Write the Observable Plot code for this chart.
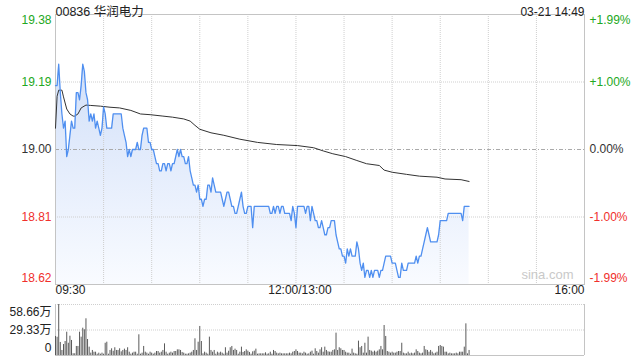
<!DOCTYPE html>
<html><head><meta charset="utf-8">
<script src="https://cdn.jsdelivr.net/npm/d3@7"></script>
<script src="https://cdn.jsdelivr.net/npm/@observablehq/plot@0.6"></script>
<style>
body{margin:0;background:#fff;}
#chart{position:relative;width:640px;height:360px;background:#fff;}
#chart svg{display:block;}
</style></head><body><div id="chart"></div>
<script>
// ---- data ----
const title = "00836 华润电力";
const stamp = "03-21 14:49";
const prevClose = 19.00;
const watermark = "sina.com";

// minute-by-minute last price, minute 0 = 09:30 (trading minutes, lunch break removed)
const prices = [
19.18,19.18,19.24,19.16,19.10,19.06,19.08,18.98,19.00,19.04,
19.08,19.06,19.06,19.16,19.16,19.14,19.18,19.24,19.22,19.16,
19.14,19.08,19.10,19.08,19.10,19.06,19.08,19.06,19.04,19.06,
19.12,19.10,19.06,19.06,19.06,19.06,19.10,19.10,19.10,19.10,
19.10,19.10,19.06,19.04,19.02,18.98,19.00,18.98,19.00,19.00,
19.00,19.02,19.00,19.00,19.04,19.06,19.06,19.06,19.02,19.02,
19.00,19.00,18.98,18.96,18.96,18.94,18.94,18.96,18.96,18.94,
18.96,18.96,18.94,18.96,18.96,18.98,19.00,18.98,19.00,18.98,
18.98,18.96,18.96,18.98,18.94,18.92,18.90,18.90,18.88,18.90,
18.86,18.86,18.84,18.86,18.86,18.90,18.90,18.88,18.92,18.90,
18.88,18.88,18.88,18.88,18.86,18.84,18.86,18.88,18.88,18.86,
18.84,18.84,18.82,18.82,18.84,18.86,18.88,18.84,18.82,18.82,
18.84,18.84,18.84,18.78,18.84,18.84,18.84,18.84,18.84,18.84,
18.84,18.84,18.84,18.84,18.82,18.82,18.84,18.82,18.84,18.84,
18.82,18.84,18.84,18.82,18.82,18.82,18.82,18.80,18.84,18.82,
18.78,18.84,18.84,18.84,18.84,18.84,18.82,18.84,18.84,18.80,
18.84,18.82,18.80,18.80,18.78,18.78,18.80,18.78,18.76,18.76,
18.78,18.78,18.80,18.80,18.80,18.76,18.74,18.72,18.72,18.70,
18.70,18.68,18.72,18.70,18.72,18.70,18.70,18.70,18.74,18.72,
18.68,18.66,18.68,18.64,18.66,18.66,18.64,18.66,18.64,18.66,
18.66,18.66,18.64,18.66,18.66,18.68,18.70,18.70,18.70,18.70,
18.68,18.68,18.68,18.66,18.64,18.64,18.68,18.66,18.66,18.66,
18.68,18.68,18.68,18.68,18.68,18.70,18.68,18.70,18.70,18.72,
18.74,18.76,18.78,18.76,18.74,18.74,18.74,18.74,18.74,18.76,
18.80,18.80,18.80,18.80,18.80,18.82,18.82,18.82,18.82,18.82,
18.82,18.82,18.82,18.82,18.80,18.84,18.84,18.84,18.84
];

// average price line (read at sample minutes)
const avgMinutes = [0,1,2,4,5,7,9,11,12,14,16,19,22,28,34,40,47,53,59,67,73,80,84,87,90,97,105,115,126,138,151,161,167,173,181,188,194,202,205,210,219,227,238,243,253,258];
const avgPrices = [19.06,19.15,19.167,19.167,19.148,19.114,19.10,19.094,19.094,19.10,19.117,19.125,19.124,19.122,19.119,19.117,19.11,19.10,19.098,19.094,19.091,19.086,19.08,19.068,19.057,19.047,19.04,19.029,19.02,19.014,19.011,19.005,18.996,18.988,18.98,18.969,18.96,18.955,18.942,18.936,18.93,18.925,18.922,18.917,18.915,18.91];

// volume per minute, in 万
const volumes = [
21.9,21.0,58.66,15.0,5.8,12.6,16.1,26.8,14.1,22.2,
17.3,2.0,2.0,10.4,10.4,26.8,21.1,31.4,29.6,42.2,
18.4,9.6,2.7,5.8,3.8,3.8,1.5,2.7,1.5,2.7,
1.5,14.1,15.3,1.5,5.8,7.7,4.9,8.9,5.8,5.8,
7.7,4.2,5.8,7.3,5.8,8.9,3.8,1.5,2.7,3.8,
3.8,1.5,23.8,1.5,2.7,10.4,3.8,2.7,1.5,3.8,
2.7,1.5,2.7,4.6,4.6,2.7,3.8,5.8,13.4,3.8,
1.5,2.7,3.8,2.7,4.6,4.6,6.5,6.5,5.8,3.5,
2.7,1.5,1.5,1.9,2.7,3.8,5.8,19.2,5.8,15.3,
33.4,16.1,1.9,3.8,2.7,1.5,21.1,5.8,3.8,5.8,
1.5,3.8,2.7,3.8,2.7,1.5,8.9,2.7,4.9,8.9,
10.4,5.8,7.3,5.8,1.5,3.8,9.6,3.5,4.6,6.5,
5.0,3.5,1.5,4.2,5.0,7.3,1.5,1.9,1.9,1.9,
1.9,3.1,1.5,1.9,3.8,1.5,5.8,4.6,2.7,1.9,
2.7,1.9,1.9,1.9,1.9,1.9,2.7,1.9,3.8,4.6,
6.5,4.6,2.7,2.7,1.9,3.8,2.7,1.5,1.9,3.8,
5.0,1.5,7.7,4.6,2.7,6.5,8.9,3.8,9.6,5.8,
4.2,3.8,3.8,5.8,6.5,25.7,5.8,8.9,7.7,5.8,
5.8,3.8,2.7,2.7,1.5,7.3,2.7,1.9,1.5,16.5,
8.9,10.4,2.7,14.1,2.7,21.1,5.8,5.0,3.8,5.0,
3.8,5.0,6.5,10.4,6.5,34.5,21.9,4.6,3.8,2.7,
3.8,2.7,2.7,3.8,4.6,4.6,14.1,2.7,1.9,1.9,
3.8,1.9,2.7,1.9,2.7,6.5,4.6,2.7,1.9,2.7,
10.4,6.5,5.8,3.8,5.8,3.8,1.9,2.7,3.8,10.4,
11.5,10.4,9.6,3.8,3.8,1.9,2.7,1.9,1.9,1.9,
2.7,1.9,3.8,3.8,3.8,9.6,36.4,1.9,5.8
];

const sessionMinutes = 330;
const gridMinutes = [30,60,90,120,150,180,210,240,270,300];
const timeTicks = [0,150,330];
const timeLabels = ["09:30","12:00/13:00","16:00"];
const priceTicks = [19.38,19.19,19.00,18.81,18.62];
const priceLabels = ["19.38","19.19","19.00","18.81","18.62"];
const pctLabels = ["+1.99%","+1.00%","0.00%","-1.00%","-1.99%"];
const volTicks = [58.66,29.33,0];
const volLabels = ["58.66万","29.33万","0"];

// ---- build ----
const FONT = '"Liberation Sans", Arial, "Noto Sans CJK SC", sans-serif';
const green = "#22a822", red = "#f0302c", dark = "#333333";
const colorOf = v => v > prevClose + 1e-9 ? green : (v < prevClose - 1e-9 ? red : dark);

const priceData = prices.map((p, i) => ({m: i, p}));
const avgData = avgMinutes.map((m, i) => ({m, p: avgPrices[i]}));
const volData = volumes.map((v, i) => ({m: i, v}));
const tickData = priceTicks.map((p, i) => ({p, label: priceLabels[i], pct: pctLabels[i], c: colorOf(p)}));
const topT = tickData.slice(0, 1), midT = tickData.slice(1, 4), botT = tickData.slice(4);

const gridStroke = "#cfcfcf";
const main = Plot.plot({
  width: 640, height: 300,
  marginTop: 14, marginLeft: 55, marginRight: 56, marginBottom: 16,
  x: {domain: [0, sessionMinutes], axis: null},
  y: {domain: [18.62, 19.38], axis: null},
  color: {type: "identity"},
  style: {fontFamily: FONT, fontSize: "12px", background: "#fff", overflow: "visible"},
  marks: [
    Plot.areaY(priceData, {x: "m", y1: 18.62, y2: "p", fill: "url(#pxgrad)"}),
    Plot.ruleX(gridMinutes, {stroke: gridStroke, strokeDasharray: "1,1"}),
    Plot.ruleY([19.19, 18.81], {stroke: gridStroke, strokeDasharray: "1,1"}),
    Plot.ruleY([prevClose], {stroke: "#aaaaaa", strokeDasharray: "4,2,1,2"}),
    Plot.frame({stroke: "#c4c4c4"}),
    Plot.line(avgData, {x: "m", y: "p", stroke: "#333", strokeWidth: 1}),
    Plot.line(priceData, {x: "m", y: "p", stroke: "#4f8ff0", strokeWidth: 1.3}),
    // left price labels
    Plot.text(topT, {y: "p", text: "label", fill: "c", frameAnchor: "left", textAnchor: "end", dx: -4, dy: 6}),
    Plot.text(midT, {y: "p", text: "label", fill: "c", frameAnchor: "left", textAnchor: "end", dx: -4}),
    Plot.text(botT, {y: "p", text: "label", fill: "c", frameAnchor: "left", textAnchor: "end", dx: -4, dy: -6}),
    // right percent labels
    Plot.text(topT, {y: "p", text: "pct", fill: "c", frameAnchor: "right", textAnchor: "start", dx: 5, dy: 6}),
    Plot.text(midT, {y: "p", text: "pct", fill: "c", frameAnchor: "right", textAnchor: "start", dx: 5}),
    Plot.text(botT, {y: "p", text: "pct", fill: "c", frameAnchor: "right", textAnchor: "start", dx: 5, dy: -6}),
    // time labels
    Plot.text([timeTicks[0]], {x: d => d, text: [timeLabels[0]], frameAnchor: "bottom", textAnchor: "start", dy: 9, fill: "#222"}),
    Plot.text([timeTicks[1]], {x: d => d, text: [timeLabels[1]], frameAnchor: "bottom", textAnchor: "middle", dy: 9, dx: 4, fill: "#222"}),
    Plot.text([timeTicks[2]], {x: d => d, text: [timeLabels[2]], frameAnchor: "bottom", textAnchor: "end", dy: 9, fill: "#222"}),
    // header
    Plot.text([title], {frameAnchor: "top-left", textAnchor: "start", dy: -7, fill: "#222", fontSize: 12.5}),
    Plot.text([stamp], {frameAnchor: "top-right", textAnchor: "end", dy: -7, fill: "#222"}),
    Plot.text([watermark], {frameAnchor: "bottom-right", textAnchor: "end", dx: -11, dy: -6, fill: "#c9c9c9", fontSize: 13})
  ]
});

// gradient for the area fill
const svgSel = d3.select(main);
const defs = svgSel.append("defs");
const grad = defs.append("linearGradient").attr("id", "pxgrad").attr("x1", 0).attr("y1", 0).attr("x2", 0).attr("y2", 1);
grad.append("stop").attr("offset", "0%").attr("stop-color", "#d2e0f9");
grad.append("stop").attr("offset", "100%").attr("stop-color", "#f9fbff");

const volTickData = volTicks.map((v, i) => ({v, label: volLabels[i]}));
const vol = Plot.plot({
  width: 640, height: 60,
  marginTop: 4, marginLeft: 55, marginRight: 56, marginBottom: 5,
  x: {domain: [0, sessionMinutes], axis: null},
  y: {domain: [0, 58.66], axis: null},
  style: {fontFamily: FONT, fontSize: "12px", background: "#fff", overflow: "visible"},
  marks: [
    Plot.ruleY([58.66, 29.33], {stroke: gridStroke, strokeDasharray: "1,1"}),
    Plot.ruleY([0], {stroke: "#c4c4c4"}),
    Plot.ruleX([0, sessionMinutes], {stroke: "#c4c4c4"}),
    Plot.ruleX(volData, {x: "m", y1: 0, y2: "v", stroke: "#5a5a5a", strokeWidth: 1}),
    Plot.text(volTickData.slice(0, 1), {y: "v", text: "label", frameAnchor: "left", textAnchor: "end", dx: -4, dy: 8, fill: "#222"}),
    Plot.text(volTickData.slice(1, 2), {y: "v", text: "label", frameAnchor: "left", textAnchor: "end", dx: -4, fill: "#222"}),
    Plot.text(volTickData.slice(2), {y: "v", text: "label", frameAnchor: "left", textAnchor: "end", dx: -4, dy: -7, fill: "#222"})
  ]
});

const host = document.getElementById("chart");
host.appendChild(main);
host.appendChild(vol);
// force a synchronous layout pass of every text node
main.querySelectorAll("text").forEach(t => t.getBBox());
vol.querySelectorAll("text").forEach(t => t.getBBox());
</script>
</body></html>
